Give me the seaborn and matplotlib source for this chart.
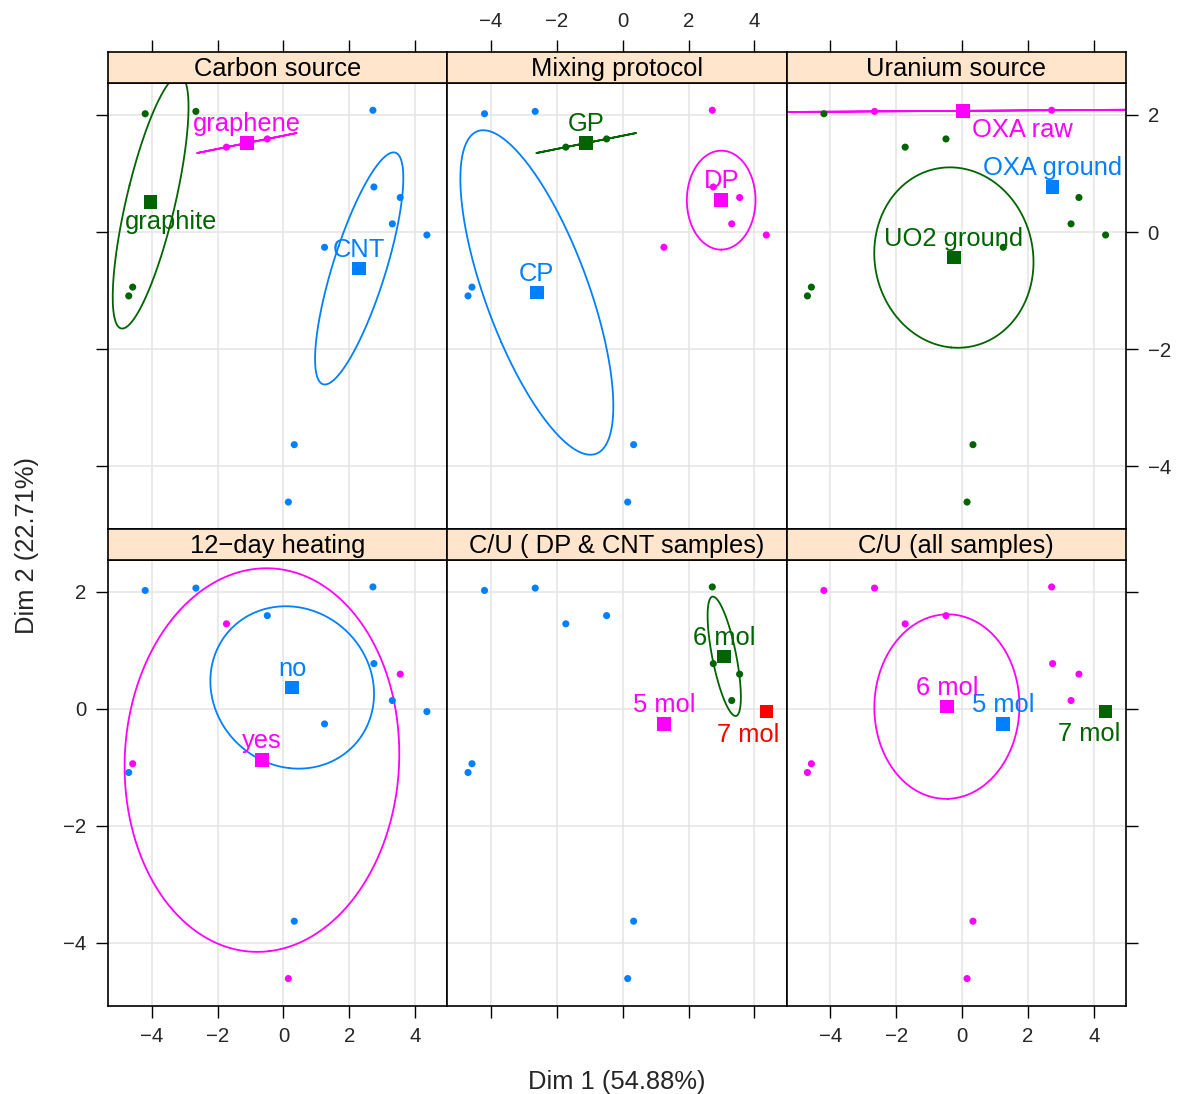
import numpy as np
import pandas as pd
import matplotlib
matplotlib.use("Agg")
import matplotlib.pyplot as plt
import seaborn as sns

# ---------------- data ----------------
dim1 = [-4.20, -2.66, -1.73, -0.49, 2.72, 2.75, 3.55, 3.31, 4.36, 1.25, -4.58, -4.70, 0.33, 0.15]
dim2 = [2.02, 2.06, 1.45, 1.59, 2.08, 0.77, 0.59, 0.14, -0.05, -0.26, -0.94, -1.09, -3.63, -4.61]

carbon = ["graphite", "graphite", "graphene", "graphene", "CNT", "CNT", "CNT", "CNT", "CNT", "CNT",
          "graphite", "graphite", "CNT", "CNT"]
mixing = ["CP", "CP", "GP", "GP", "DP", "DP", "DP", "DP", "DP", "DP", "CP", "CP", "CP", "CP"]
uranium = ["UO2 ground", "OXA raw", "UO2 ground", "UO2 ground", "OXA raw", "OXA ground", "UO2 ground",
           "UO2 ground", "UO2 ground", "UO2 ground", "UO2 ground", "UO2 ground", "UO2 ground", "UO2 ground"]
heating = ["no", "no", "yes", "no", "no", "no", "yes", "no", "no", "no", "yes", "no", "no", "yes"]
cu_dp_cnt = ["other", "other", "other", "other", "6 mol", "6 mol", "6 mol", "6 mol", "7 mol", "5 mol",
             "other", "other", "other", "other"]
cu_all = ["6 mol", "6 mol", "6 mol", "6 mol", "6 mol", "6 mol", "6 mol", "6 mol", "7 mol", "5 mol",
          "6 mol", "6 mol", "6 mol", "6 mol"]

panel_titles = ["Carbon source", "Mixing protocol", "Uranium source",
                "12\u2212day heating", "C/U ( DP & CNT samples)", "C/U (all samples)"]
panel_levels = [["CNT", "graphene", "graphite"],
                ["CP", "DP", "GP"],
                ["OXA ground", "OXA raw", "UO2 ground"],
                ["no", "yes"],
                ["other", "5 mol", "6 mol", "7 mol"],
                ["5 mol", "6 mol", "7 mol"]]
panel_factors = [carbon, mixing, uranium, heating, cu_dp_cnt, cu_all]
hidden_levels = ["other"]

x_ticks = [-4, -2, 0, 2, 4]
y_ticks = [-4, -2, 0, 2]
x_label = "Dim 1 (54.88%)"
y_label = "Dim 2 (22.71%)"

# ---------------- style ----------------
sns.set_style("white")
plt.rcParams['font.family'] = ['Liberation Sans', 'DejaVu Sans']
palette_cols = ["#0080ff", "#ff00ff", "#006400", "#ff0000"]
strip_col = "#ffe5cc"
grid_col = "#e6e6e6"
BASE_FS = 18.4
TICK_FS = 14.7
CHI2_95 = 5.991

# label offsets (points) from the group mean; default above
label_offsets = {(0, "graphite"): (15, -14.5), (2, "OXA raw"): (43, -13.5),
                 (4, "7 mol"): (-13, -16.5), (5, "7 mol"): (-12, -16)}
default_offset = (0, 13.5)

W, H = 1179, 1094
fig = plt.figure(figsize=(W / 100, H / 100), dpi=100)

col_edges = [108, 447.3, 786.7, 1126]
rows = [dict(strip=(52.3, 83.3), panel=(83.3, 529.0)),
        dict(strip=(529.0, 560.0), panel=(560.0, 1005.5))]
xlim = (-5.33, 4.98)
ylim = (-5.07, 2.54)


def add_ax(x0, x1, y0, y1):
    return fig.add_axes([x0 / W, 1 - y1 / H, (x1 - x0) / W, (y1 - y0) / H])


def ellipse_pts(xs, ys):
    xs = np.asarray(xs); ys = np.asarray(ys)
    n = len(xs)
    cov = np.cov(np.vstack([xs, ys])) / n
    w, v = np.linalg.eigh(cov)
    w = np.clip(w, 0, None)
    t = np.linspace(0, 2 * np.pi, 300)
    circ = np.vstack([np.cos(t), np.sin(t)])
    pts = v @ (np.sqrt(w * CHI2_95)[:, None] * circ)
    return xs.mean() + pts[0], ys.mean() + pts[1]


df_base = pd.DataFrame({"dim1": dim1, "dim2": dim2})

for p in range(6):
    r, c = divmod(p, 3)
    x0, x1 = col_edges[c], col_edges[c + 1]
    sy0, sy1 = rows[r]["strip"]
    py0, py1 = rows[r]["panel"]
    ax = add_ax(x0, x1, py0, py1)
    sax = add_ax(x0, x1, sy0, sy1)

    levels = panel_levels[p]
    cmap = {lv: palette_cols[i] for i, lv in enumerate(levels)}
    df = df_base.copy()
    df["grp"] = panel_factors[p]

    # grid
    for xt in x_ticks:
        ax.axvline(xt, color=grid_col, lw=1.2, zorder=0)
    for yt in y_ticks:
        ax.axhline(yt, color=grid_col, lw=1.2, zorder=0)

    sns.scatterplot(data=df, x="dim1", y="dim2", hue="grp", hue_order=levels, palette=cmap,
                    s=26, edgecolor="none", legend=False, ax=ax, zorder=3)

    for lv in levels:
        if lv in hidden_levels:
            continue
        sub = df[df["grp"] == lv]
        if len(sub) >= 2:
            ex, ey = ellipse_pts(sub["dim1"], sub["dim2"])
            sns.lineplot(x=ex, y=ey, sort=False, estimator=None, color=cmap[lv], lw=1.3,
                         ax=ax, zorder=2)
        mx, my = sub["dim1"].mean(), sub["dim2"].mean()
        sns.scatterplot(x=[mx], y=[my], marker="s", s=95, color=cmap[lv], edgecolor="none",
                        legend=False, ax=ax, zorder=4)
        off = label_offsets.get((p, lv), default_offset)
        ax.annotate(lv, (mx, my), xytext=off, textcoords="offset points", ha="center",
                    va="center", color=cmap[lv], fontsize=BASE_FS, zorder=5)

    ax.set_xlim(*xlim)
    ax.set_ylim(*ylim)
    ax.set_xlabel("")
    ax.set_ylabel("")
    ax.set_xticks(x_ticks)
    ax.set_yticks(y_ticks)
    for sp in ax.spines.values():
        sp.set_visible(True)
        sp.set_color("black")
        sp.set_linewidth(1.2)

    tick_kw = dict(direction="out", length=8.5, width=1.0, labelsize=TICK_FS, pad=7, color="black")
    ax.tick_params(axis="both", **tick_kw)
    ax.tick_params(axis="x", top=False, labeltop=False,
                   bottom=(r == 1), labelbottom=(r == 1 and c != 1))
    ax.tick_params(axis="y", left=(c == 0), labelleft=(c == 0 and r == 1),
                   right=(c == 2), labelright=(c == 2 and r == 0))

    # strip
    sax.set_facecolor(strip_col)
    sax.set_xlim(*xlim)
    sax.set_ylim(0, 1)
    sax.set_yticks([])
    sax.set_xticks(x_ticks)
    for sp in sax.spines.values():
        sp.set_visible(True)
        sp.set_color("black")
        sp.set_linewidth(1.2)
    sax.tick_params(axis="x", **tick_kw)
    sax.tick_params(axis="x", bottom=False, labelbottom=False,
                    top=(r == 0), labeltop=(r == 0 and c == 1))
    sax.text(0.5, 0.45, panel_titles[p], transform=sax.transAxes, ha="center", va="center",
             fontsize=BASE_FS, color="black")

fig.text(617 / W, 1 - 1082 / H, x_label, ha="center", va="center", fontsize=BASE_FS)
fig.text(27 / W, 1 - 545 / H, y_label, ha="center", va="center", fontsize=BASE_FS, rotation=90)

fig.savefig("out.png", dpi=100, facecolor="white")
